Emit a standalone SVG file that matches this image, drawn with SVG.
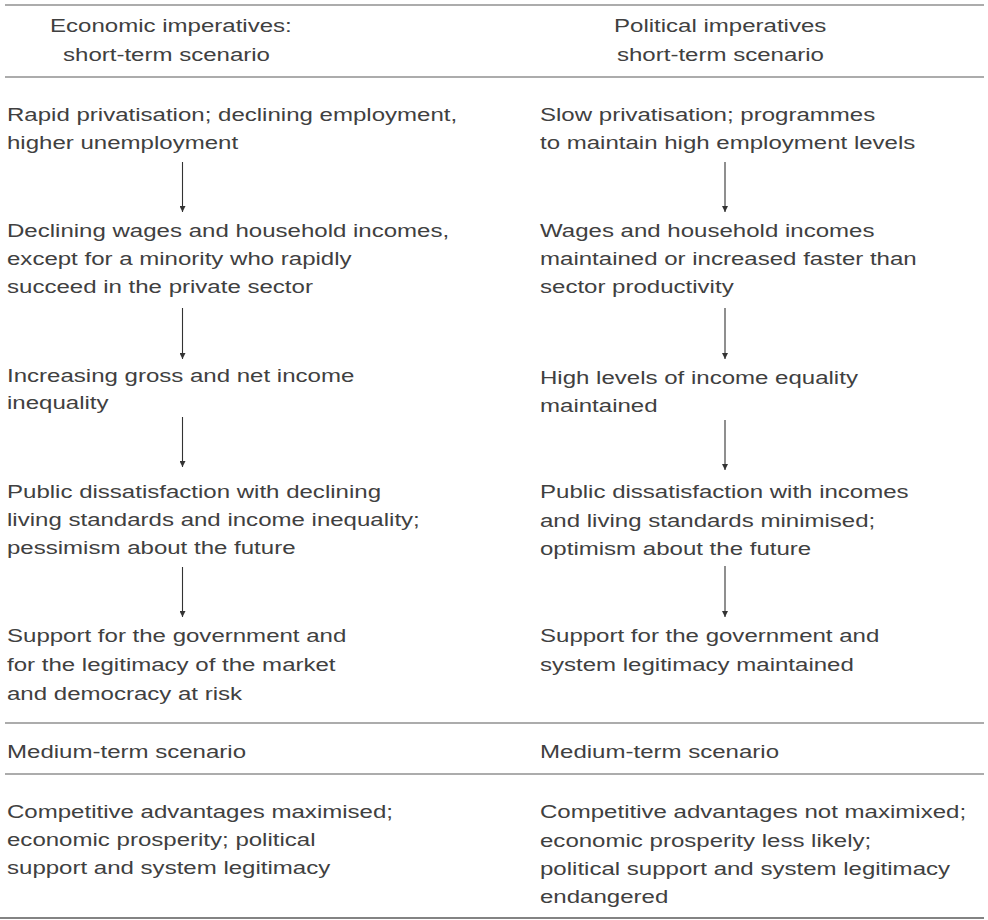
<svg xmlns="http://www.w3.org/2000/svg" width="988" height="920" viewBox="0 0 988 920">
<style>
text{font-family:"Liberation Sans",Arial,sans-serif;font-size:18.5px;fill:#404040}
.rule{stroke:#5a5a5a;stroke-width:1.2}
.arr{stroke:#333;stroke-width:1.1;fill:none}
</style>
<defs>
<marker id="ah" viewBox="0 0 10 10" refX="10" refY="5" markerWidth="6" markerHeight="6" markerUnits="userSpaceOnUse" orient="auto">
<path d="M0,0 L10,5 L0,10 z" fill="#333"/>
</marker>
</defs>
<rect width="988" height="920" fill="#fff"/>
<g id="rules">
<line class="rule" x1="5" y1="5" x2="984" y2="5"/>
<line class="rule" x1="5" y1="77" x2="984" y2="77"/>
<line class="rule" x1="5" y1="723" x2="984" y2="723"/>
<line class="rule" x1="5" y1="774" x2="984" y2="774"/>
<line class="rule" x1="0" y1="918" x2="984" y2="918" style="stroke-width:1.6"/>
</g>
<g id="hdr-left" transform="translate(50,0) scale(1.3,1)"><text x="0" y="32">Economic imperatives:</text><text x="10" y="61">short-term scenario</text></g>
<g id="hdr-right" transform="translate(614,0) scale(1.3,1)"><text x="0" y="32">Political imperatives</text><text x="2.3" y="61">short-term scenario</text></g>
<g id="e1" transform="translate(7,0) scale(1.3,1)"><text y="121">Rapid privatisation; declining employment,</text><text y="149">higher unemployment</text></g>
<g id="e2" transform="translate(7,0) scale(1.3,1)"><text y="237">Declining wages and household incomes,</text><text y="265">except for a minority who rapidly</text><text y="293">succeed in the private sector</text></g>
<g id="e3" transform="translate(7,0) scale(1.3,1)"><text y="382">Increasing gross and net income</text><text y="409">inequality</text></g>
<g id="e4" transform="translate(7,0) scale(1.3,1)"><text y="498">Public dissatisfaction with declining</text><text y="526">living standards and income inequality;</text><text y="554">pessimism about the future</text></g>
<g id="p1" transform="translate(540,0) scale(1.3,1)"><text y="121">Slow privatisation; programmes</text><text y="149">to maintain high employment levels</text></g>
<g id="e5" transform="translate(7,0) scale(1.3,1)"><text y="642">Support for the government and</text><text y="671">for the legitimacy of the market</text><text y="700">and democracy at risk</text></g>
<g id="p2" transform="translate(540,0) scale(1.3,1)"><text y="237">Wages and household incomes</text><text y="265">maintained or increased faster than</text><text y="293">sector productivity</text></g>
<g id="p3" transform="translate(540,0) scale(1.3,1)"><text y="384">High levels of income equality</text><text y="412">maintained</text></g>
<g id="p4" transform="translate(540,0) scale(1.3,1)"><text y="498">Public dissatisfaction with incomes</text><text y="527">and living standards minimised;</text><text y="555">optimism about the future</text></g>
<g id="p5" transform="translate(540,0) scale(1.3,1)"><text y="642">Support for the government and</text><text y="671">system legitimacy maintained</text></g>
<g id="m-left" transform="translate(7,0) scale(1.3,1)"><text y="758">Medium-term scenario</text></g>
<g id="m-right" transform="translate(540,0) scale(1.3,1)"><text y="758">Medium-term scenario</text></g>
<g id="r-left" transform="translate(7,0) scale(1.3,1)"><text y="818">Competitive advantages maximised;</text><text y="846">economic prosperity; political</text><text y="874">support and system legitimacy</text></g>
<g id="r-right" transform="translate(540,0) scale(1.3,1)"><text y="818">Competitive advantages not maximixed;</text><text y="847">economic prosperity less likely;</text><text y="875">political support and system legitimacy</text><text y="903">endangered</text></g>
<g id="connectors">
<line class="arr" x1="182.5" y1="162" x2="182.5" y2="212" marker-end="url(#ah)"/>
<line class="arr" x1="182.5" y1="308" x2="182.5" y2="359" marker-end="url(#ah)"/>
<line class="arr" x1="182.5" y1="417" x2="182.5" y2="467" marker-end="url(#ah)"/>
<line class="arr" x1="182.5" y1="567" x2="182.5" y2="617" marker-end="url(#ah)"/>
<line class="arr" x1="725" y1="162" x2="725" y2="212" marker-end="url(#ah)"/>
<line class="arr" x1="725" y1="308" x2="725" y2="359" marker-end="url(#ah)"/>
<line class="arr" x1="725" y1="420" x2="725" y2="470" marker-end="url(#ah)"/>
<line class="arr" x1="725" y1="566" x2="725" y2="617" marker-end="url(#ah)"/>
</g>
</svg>
